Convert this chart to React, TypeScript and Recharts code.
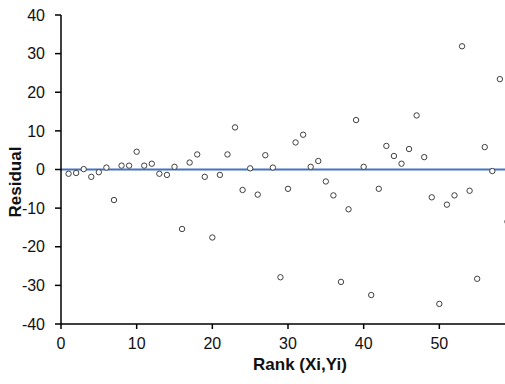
import { ScatterChart, Scatter, XAxis, YAxis, ReferenceLine } from "recharts";

const ranks = [
  1, 2, 3, 4, 5, 6, 7, 8, 9, 10, 11, 12, 13, 14, 15, 16, 17, 18, 19, 20,
  21, 22, 23, 24, 25, 26, 27, 28, 29, 30, 31, 32, 33, 34, 35, 36, 37, 38, 39, 40,
  41, 42, 43, 44, 45, 46, 47, 48, 49, 50, 51, 52, 53, 54, 55, 56, 57, 58, 59,
];

const residuals = [
  -1.1, -0.9, 0.1, -1.9, -0.7, 0.5, -7.9, 1.0, 1.0, 4.6,
  1.0, 1.5, -1.1, -1.4, 0.7, -15.4, 1.8, 3.9, -1.9, -17.6,
  -1.4, 3.9, 10.9, -5.3, 0.3, -6.5, 3.7, 0.5, -27.9, -5.0,
  7.0, 9.0, 0.7, 2.2, -3.1, -6.7, -29.1, -10.3, 12.8, 0.7,
  -32.5, -5.0, 6.1, 3.5, 1.5, 5.3, 14.0, 3.2, -7.2, -34.8,
  -9.1, -6.7, 31.9, -5.5, -28.3, 5.8, -0.4, 23.4, -13.5,
];

const xTicks = [0, 10, 20, 30, 40, 50];
const yTicks = [-40, -30, -20, -10, 0, 10, 20, 30, 40];

const points = ranks.map((r, i) => ({ rank: r, residual: residuals[i] }));

const font = "'Liberation Sans', Arial, sans-serif";

const Dot = (props: any) => (
  <circle cx={props.cx} cy={props.cy} r={2.7} fill="#fff" stroke="#404040" strokeWidth={1} />
);

export default function App() {
  return (
    <div
      style={{
        position: "absolute",
        left: 0,
        top: 0,
        width: 505,
        height: 384,
        overflow: "hidden",
        background: "#fff",
      }}
    >
      <ScatterChart width={520} height={384} margin={{ top: 15, right: 5, left: 0, bottom: 0 }}>
        <XAxis
          type="number"
          dataKey="rank"
          domain={[0, 60]}
          ticks={xTicks}
          height={60}
          axisLine={{ stroke: "#000", strokeWidth: 1.5 }}
          tickLine={{ stroke: "#000", strokeWidth: 1.5 }}
          tickSize={5}
          tickMargin={9}
          tick={{ fill: "#111", fontSize: 16, fontFamily: font }}
          label={{
            content: () => (
              <text
                x={300}
                y={370}
                textAnchor="middle"
                fontFamily={font}
                fontSize={17}
                fontWeight="bold"
                fill="#111"
              >
                Rank (Xi,Yi)
              </text>
            ),
          }}
        />
        <YAxis
          type="number"
          dataKey="residual"
          domain={[-40, 40]}
          ticks={yTicks}
          width={61}
          axisLine={{ stroke: "#000", strokeWidth: 1.5 }}
          tickLine={{ stroke: "#000", strokeWidth: 1.5 }}
          tickSize={6}
          tickMargin={10}
          tick={{ fill: "#111", fontSize: 16, fontFamily: font }}
          label={{
            content: () => (
              <text
                x={15}
                y={182}
                transform="rotate(-90 15 182)"
                textAnchor="middle"
                dominantBaseline="central"
                fontFamily={font}
                fontSize={17}
                fontWeight="bold"
                fill="#111"
              >
                Residual
              </text>
            ),
          }}
        />
        <ReferenceLine y={0} stroke="#4472C4" strokeWidth={2} />
        <Scatter data={points} shape={Dot} isAnimationActive={false} />
      </ScatterChart>
    </div>
  );
}
